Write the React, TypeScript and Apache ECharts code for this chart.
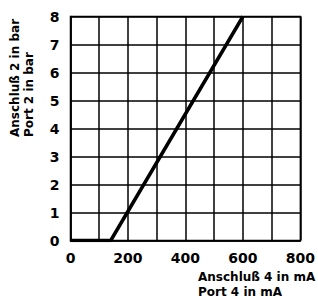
import React, { useEffect, useRef } from "react";
import * as echarts from "echarts";

const xValues = [0, 140, 600];
const yValues = [0, 0, 8];
const xAxisName = ["Anschluß 4 in mA", "Port 4 in mA"];
const yAxisName = ["Anschluß 2 in bar", "Port 2 in bar"];
const xMin = 0, xMax = 800, xStep = 100, xLabelStep = 200;
const yMin = 0, yMax = 8, yStep = 1;

const FONT = "'DejaVu Sans', sans-serif";

export default function App() {
  const ref = useRef<HTMLDivElement>(null);
  useEffect(() => {
    if (!ref.current) return;
    const chart = echarts.init(ref.current, null, { renderer: "svg" });
    const data = xValues.map((x, i) => [x, yValues[i]]);
    chart.setOption({
      animation: false,
      backgroundColor: "#fff",
      grid: {
        left: 70.5,
        top: 16.5,
        width: 233,
        height: 224,
        show: true,
        borderColor: "#000",
        borderWidth: 1.5,
        backgroundColor: "transparent",
      },
      xAxis: {
        type: "value",
        min: xMin,
        max: xMax,
        interval: xStep,
        axisLine: { show: true, lineStyle: { color: "#000", width: 1.5 } },
        axisTick: { show: false },
        splitLine: { show: true, lineStyle: { color: "#000", width: 1.5 } },
        axisLabel: {
          margin: 10,
          color: "#000",
          fontFamily: FONT,
          fontWeight: "bold",
          fontSize: 14,
          formatter: (v: number) => (v % xLabelStep === 0 ? String(v) : ""),
        },
      },
      yAxis: {
        type: "value",
        min: yMin,
        max: yMax,
        interval: yStep,
        axisLine: { show: true, lineStyle: { color: "#000", width: 1.5 } },
        axisTick: { show: false },
        splitLine: { show: true, lineStyle: { color: "#000", width: 1.5 } },
        axisLabel: {
          margin: 11,
          color: "#000",
          fontFamily: FONT,
          fontWeight: "bold",
          fontSize: 14,
        },
      },
      series: [
        {
          type: "line",
          data,
          symbol: "none",
          lineStyle: { color: "#000", width: 3.5 },
          z: 5,
        },
      ],
      graphic: [
        {
          type: "text",
          x: 198,
          y: 277,
          style: {
            text: xAxisName[0],
            font: `bold 12px ${FONT}`,
            fill: "#000",
            align: "left",
            verticalAlign: "middle",
          },
        },
        {
          type: "text",
          x: 198,
          y: 292,
          style: {
            text: xAxisName[1],
            font: `bold 12px ${FONT}`,
            fill: "#000",
            align: "left",
            verticalAlign: "middle",
          },
        },
        {
          type: "text",
          x: 15,
          y: 137,
          rotation: Math.PI / 2,
          style: {
            text: yAxisName[0],
            font: `bold 12px ${FONT}`,
            fill: "#000",
            align: "left",
            verticalAlign: "middle",
          },
        },
        {
          type: "text",
          x: 29,
          y: 137,
          rotation: Math.PI / 2,
          style: {
            text: yAxisName[1],
            font: `bold 12px ${FONT}`,
            fill: "#000",
            align: "left",
            verticalAlign: "middle",
          },
        },
      ],
    });
    return () => chart.dispose();
  }, []);
  return (
    <div
      ref={ref}
      style={{ position: "fixed", left: 0, top: 0, width: 318, height: 300, background: "#fff" }}
    />
  );
}
